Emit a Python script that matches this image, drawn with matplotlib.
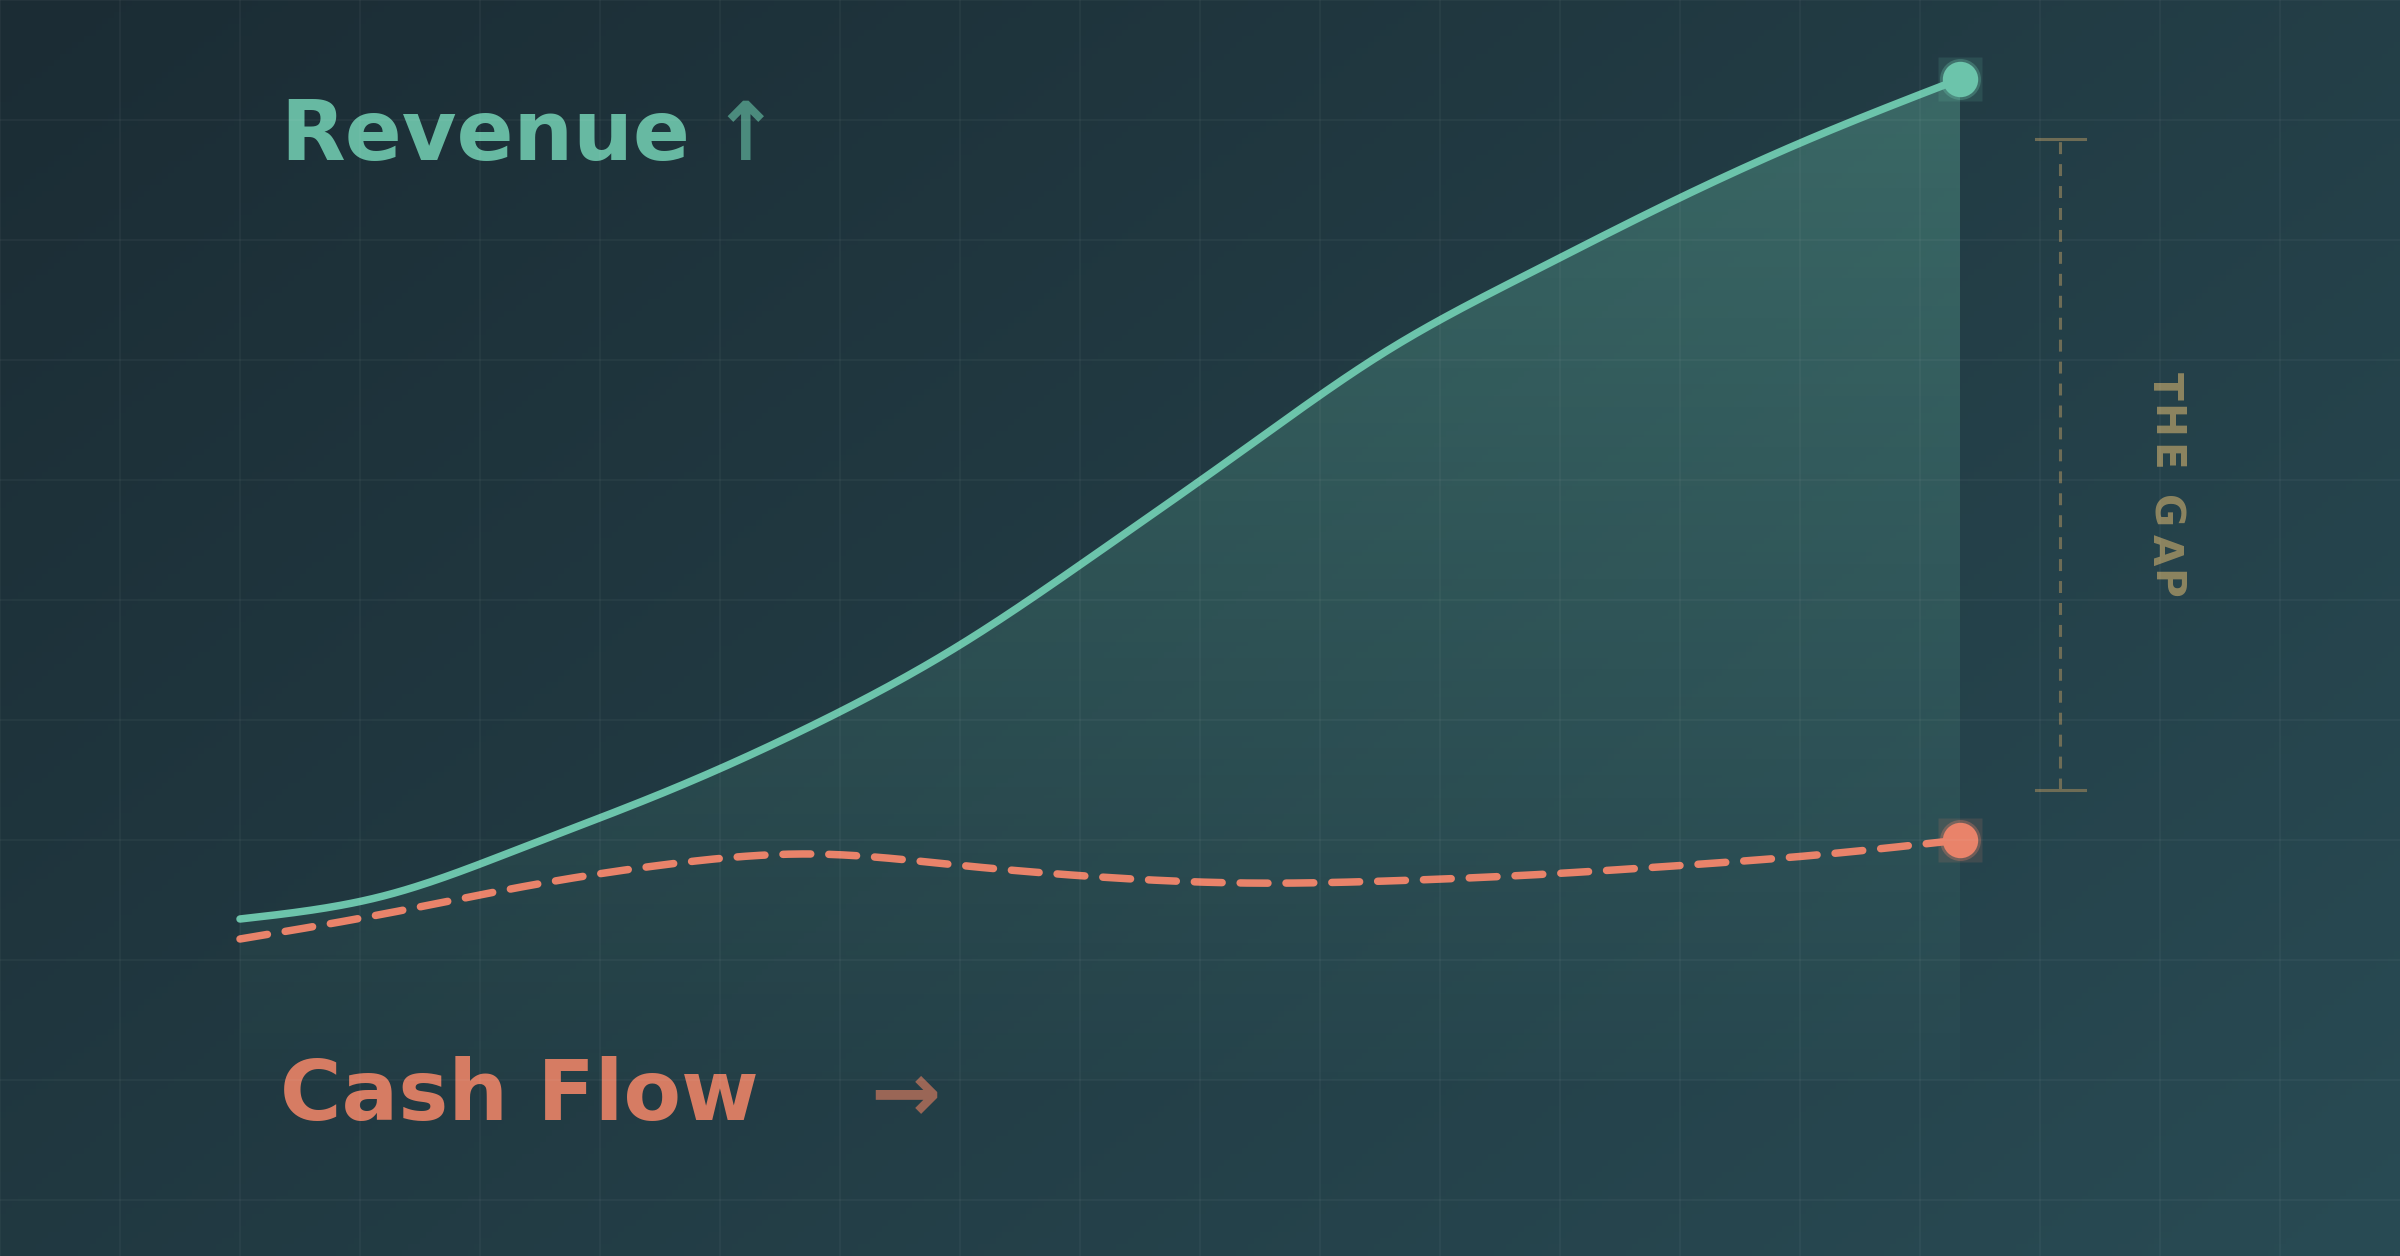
import numpy as np
import matplotlib
matplotlib.use("Agg")
import matplotlib.pyplot as plt
from matplotlib import font_manager, ft2font
from matplotlib.patches import Polygon
from matplotlib.lines import Line2D
from matplotlib.colors import to_rgb

# data: monthly values ($K)
months = np.arange(13)
revenue = [81, 104, 154, 210, 275, 353, 449, 550, 649, 727, 799, 864, 921]
cash_flow = [61, 86, 114, 136, 146, 135, 123, 117, 119, 125, 134, 145, 160]

TEAL = "#6cc4ab"
SALMON = "#e9836a"
BG0, BG1 = "#1b2c34", "#294b54"
KHAKI = "#6e6c55"

plt.rcParams["lines.scale_dashes"] = False

W, H, DPI = 2400, 1256, 100
PX_PER_MONTH = 1720 / 12.0          # months 0..12 span pixels 240..1960
x_lo = -240 / PX_PER_MONTH
x_hi = (W - 240) / PX_PER_MONTH
y_lo, y_hi = 1000 - H, 1000         # 1 unit = 1 pixel


def smooth(x, y, n=40):
    # natural cubic spline through the points, only for drawing the curve
    x = np.asarray(x, float); y = np.asarray(y, float)
    k = len(x)
    h = np.diff(x)
    A = np.zeros((k, k)); b = np.zeros(k)
    A[0, 0] = A[-1, -1] = 1
    for i in range(1, k - 1):
        A[i, i - 1] = h[i - 1]
        A[i, i] = 2 * (h[i - 1] + h[i])
        A[i, i + 1] = h[i]
        b[i] = 6 * ((y[i + 1] - y[i]) / h[i] - (y[i] - y[i - 1]) / h[i - 1])
    M = np.linalg.solve(A, b)
    xs, ys = [], []
    for i in range(k - 1):
        t = np.linspace(x[i], x[i + 1], n, endpoint=(i == k - 2))
        a = x[i + 1] - t; c = t - x[i]
        s = (M[i] * a ** 3 + M[i + 1] * c ** 3) / (6 * h[i]) \
            + (y[i] / h[i] - M[i] * h[i] / 6) * a + (y[i + 1] / h[i] - M[i + 1] * h[i] / 6) * c
        xs.append(t); ys.append(s)
    return np.concatenate(xs), np.concatenate(ys)


fig = plt.figure(figsize=(W / DPI, H / DPI), dpi=DPI)
ax = fig.add_axes([0, 0, 1, 1])
ax.axis("off")

# background diagonal gradient
gx, gy = np.meshgrid(np.linspace(0, 1, 400), np.linspace(0, 1, 210))
t = (gx * 0.6 + gy * 0.4)
c0, c1 = np.array(to_rgb(BG0)), np.array(to_rgb(BG1))
bg = c0 + (c1 - c0) * t[..., None]
ax.imshow(bg, extent=[x_lo, x_hi, y_lo, y_hi], origin="upper", aspect="auto", zorder=0)

# faint grid every 120 px
for gxp in range(0, W, 120):
    fig.add_artist(Line2D([gxp / W, gxp / W], [0, 1], color="white", alpha=0.035, lw=1.5, zorder=1))
for gyp in range(0, H, 120):
    fig.add_artist(Line2D([0, 1], [1 - gyp / H, 1 - gyp / H], color="white", alpha=0.035, lw=1.5, zorder=1))

rx, ry = smooth(months, revenue)
cx, cy = smooth(months, cash_flow)

# gradient fill under revenue
fill_bottom = -80
poly = Polygon(np.column_stack([np.r_[rx, rx[-1], rx[0]], np.r_[ry, fill_bottom, fill_bottom]]),
               closed=True, transform=ax.transData, facecolor="none", edgecolor="none")
ax.add_patch(poly)
alpha = np.linspace(0.33, 0.03, 256)[:, None]
grad = np.zeros((256, 2, 4))
grad[..., :3] = to_rgb(TEAL)
grad[..., 3] = alpha
im = ax.imshow(grad, extent=[months[0], months[-1], fill_bottom, max(revenue)],
               origin="upper", aspect="auto", zorder=2)
im.set_clip_path(poly)

# lines
ax.plot(rx, ry, color=TEAL, lw=5.4, solid_capstyle="round", zorder=3)
ax.plot(cx, cy, color=SALMON, lw=5.4, dash_capstyle="round",
        linestyle=(0, (20.0, 13.0)), zorder=3)

# end dots with soft glow squares
for val, col in [(revenue[-1], TEAL), (cash_flow[-1], SALMON)]:
    ax.plot(months[-1], val, marker="s", ms=31.5, color=col, alpha=0.14, mec="none", zorder=4)
    ax.plot(months[-1], val, marker="o", ms=29.5, color=col, alpha=0.3, mec="none", zorder=4)
    ax.plot(months[-1], val, marker="o", ms=25.5, color=col, mec="none", zorder=5)

# gap bracket
gap_x = 12.7
gap_top = revenue[-1] - 60
gap_bot = cash_flow[-1] + 50
cap = 0.17
ax.plot([gap_x, gap_x], [gap_bot, gap_top], color=KHAKI, lw=2.2, linestyle=(0, (8.6, 7.2)), zorder=3)
ax.plot([gap_x - cap, gap_x + cap], [gap_top, gap_top], color=KHAKI, lw=2.2, zorder=3)
ax.plot([gap_x - cap, gap_x + cap], [gap_bot, gap_bot], color=KHAKI, lw=2.2, zorder=3)

# "THE GAP" vertical, letter-spaced
gap_fs = 29.2
fp = font_manager.FontProperties(family="DejaVu Sans", weight="bold")
ft = ft2font.FT2Font(font_manager.findfont(fp))
ft.set_size(gap_fs, DPI)
pos = 628.0
for ch in "THE GAP":
    adv = ft.load_char(ord(ch)).linearHoriAdvance / 65536.0
    if ch != " ":
        ax.text(13.42, pos, ch, rotation=-90, rotation_mode="anchor", ha="left", va="center",
                fontsize=gap_fs, fontweight="bold", color="#8c8460", zorder=5)
    pos -= adv + 5.0

# titles
ax.text(0.28, 840, "Revenue", fontsize=60.5, fontweight="bold", color="#67b9a2",
        ha="left", va="baseline", zorder=5)
ax.text((711 - 240) / PX_PER_MONTH, 840, "\u2191", fontsize=58, fontweight="bold",
        color="#4b8b7d", ha="left", va="baseline", zorder=5)
ax.text(0.28, -120, "Cash Flow", fontsize=60.5, fontweight="bold", color="#d67c63",
        ha="left", va="baseline", zorder=5)
ax.text((870 - 240) / PX_PER_MONTH, -120, "\u2192", fontsize=60.5, fontweight="bold",
        color="#9a6656", ha="left", va="baseline", zorder=5)

ax.set_xlim(x_lo, x_hi)
ax.set_ylim(y_lo, y_hi)

fig.savefig("out.png", dpi=DPI, facecolor=BG0)
